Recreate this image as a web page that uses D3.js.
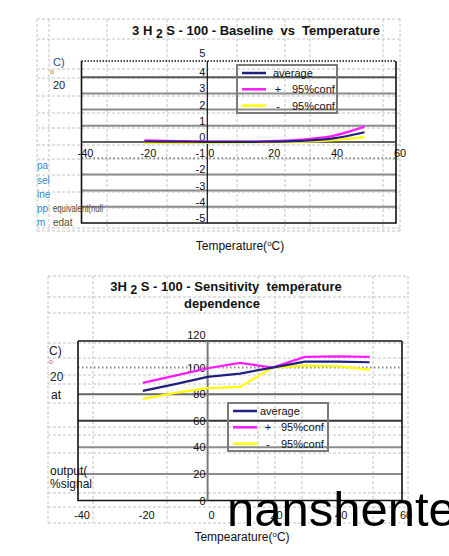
<!DOCTYPE html>
<html>
<head>
<meta charset="utf-8">
<script src="https://cdn.jsdelivr.net/npm/d3@7"></script>
<style>
  body { margin: 0; background: #fff; }
  text { font-family: "Liberation Sans", Arial, sans-serif; }
</style>
</head>
<body>
<div id="chart"></div>
<script>
"use strict";

// Values
var temps = [-20, -10, 0, 10, 20, 30, 40, 50];
var seriesNames = ["average", "+", "-"];

var baseAvg   = [0.03, 0.02, 0.01, 0.01, 0.02, 0.07, 0.22, 0.60];
var basePlus  = [0.10, 0.06, 0.03, 0.02, 0.05, 0.15, 0.38, 0.95];
var baseMinus = [-0.06, -0.05, -0.05, -0.04, -0.02, 0.02, 0.12, 0.30];

var sensAvg   = [82.5, 87.5, 93, 95.5, 100, 104.5, 104.5, 104];
var sensPlus  = [88.5, 94, 99.5, 103.5, 100, 108, 108.5, 108];
var sensMinus = [76.5, 81, 84.5, 85.5, 100, 101.5, 101, 98.5];

var xTicks = [-40, -20, 0, 20, 40, 60];
var baseTicks = [-5, -4, -3, -2, -1, 0, 1, 2, 3, 4, 5];
var sensTicks = [0, 20, 40, 60, 80, 100, 120];

var colors = ["#1f1f80", "#ff1aff", "#ffff00"];

var svg = d3.select("#chart")
            .append("svg")
            .attr("width", 449)
            .attr("height", 556)
            .style("display", "block");

svg.append("rect").attr("width", 449).attr("height", 556).attr("fill", "#fff");

// Spreadsheet cell grid behind the charts
var drawSheet = function(s) {
  var g = svg.append("g")
             .attr("stroke", "#c4c4c4")
             .attr("stroke-width", 1)
             .attr("stroke-dasharray", "3,2");
  g.selectAll("line.col")
   .data(s.cols)
   .enter()
   .append("line")
   .attr("x1", function(d) { return d; })
   .attr("x2", function(d) { return d; })
   .attr("y1", s.y0)
   .attr("y2", s.y1);
  g.selectAll("line.row")
   .data(s.rows)
   .enter()
   .append("line")
   .attr("x1", s.x0)
   .attr("x2", s.x1)
   .attr("y1", function(d) { return d; })
   .attr("y2", function(d) { return d; });
};

drawSheet({ x0: 37, x1: 400, y0: 19, y1: 231,
            cols: [37, 49, 107, 167, 237, 285, 310, 383, 400],
            rows: [19, 39, 69, 78, 96, 113, 128, 145, 159, 175, 192, 208, 228, 231] });
drawSheet({ x0: 48, x1: 408, y0: 276, y1: 523,
            cols: [48, 93, 167, 258, 275, 302, 373, 408],
            rows: [276, 297, 313, 343, 358, 375, 384, 403, 427, 435, 453, 493, 507, 523] });

// One Excel-style chart
var drawChart = function(o) {
  var x = d3.scaleLinear().domain([-40, 60]).range(o.xRange);
  var y = d3.scaleLinear().domain(o.yDomain).range(o.yRange);
  var g = svg.append("g");

  // horizontal gridlines
  g.selectAll("line.grid")
   .data(o.yTicks.filter(function(d) { return d > o.yDomain[0] && d < o.yDomain[1]; }))
   .enter()
   .append("line")
   .attr("x1", o.xRange[0])
   .attr("x2", o.xRange[1])
   .attr("y1", function(d) { return y(d); })
   .attr("y2", function(d) { return y(d); })
   .attr("stroke", function(d) { return o.gridColor(d); })
   .attr("stroke-width", 2)
   .attr("stroke-dasharray", function(d) { return o.dotted.indexOf(d) >= 0 ? "1.5,2.5" : null; });

  // frame
  var fx0 = o.xRange[0], fx1 = o.xRange[1], fy0 = o.yRange[1], fy1 = o.yRange[0];
  g.append("path")
   .attr("d", "M" + fx1 + "," + fy0 + "L" + fx1 + "," + fy1 + "L" + fx0 + "," + fy1 + "L" + fx0 + "," + fy0)
   .attr("fill", "none")
   .attr("stroke", "#111")
   .attr("stroke-width", 1.6);
  g.append("line")
   .attr("x1", fx0).attr("x2", fx1).attr("y1", fy0).attr("y2", fy0)
   .attr("stroke", "#111")
   .attr("stroke-width", 1.3)
   .attr("stroke-dasharray", o.topDotted ? "1.5,1.5" : null);

  // axes cross at zero
  g.append("line")
   .attr("x1", x(0)).attr("x2", x(0)).attr("y1", fy0).attr("y2", fy1)
   .attr("stroke", o.yAxisColor)
   .attr("stroke-width", o.yAxisWidth);
  if (o.yDomain[0] < 0) {
    g.append("line")
     .attr("x1", fx0).attr("x2", fx1).attr("y1", y(0)).attr("y2", y(0))
     .attr("stroke", "#555")
     .attr("stroke-width", 1.5);
  }

  // y tick labels
  g.selectAll("text.yt")
   .data(o.yTicks)
   .enter()
   .append("text")
   .attr("x", x(0) - 2)
   .attr("y", function(d) { return y(d) + o.yLabelDy(d); })
   .attr("text-anchor", "end")
   .attr("font-size", 11)
   .attr("fill", "#111")
   .text(function(d) { return d; });

  // x tick labels
  var xAxisY = y(Math.max(0, o.yDomain[0]));
  g.selectAll("text.xt")
   .data(xTicks)
   .enter()
   .append("text")
   .attr("x", function(d) { return x(d) + 4; })
   .attr("y", xAxisY + o.xLabelDy)
   .attr("text-anchor", "middle")
   .attr("font-size", 11)
   .attr("fill", "#111")
   .text(function(d) { return d; });

  // series
  var line = d3.line()
               .x(function(d, i) { return x(temps[i]); })
               .y(function(d) { return y(d); })
               .curve(o.curve);
  g.selectAll("path.series")
   .data([o.series[2], o.series[1], o.series[0]])
   .enter()
   .append("path")
   .attr("d", function(d) { return line(d); })
   .attr("fill", "none")
   .attr("stroke", function(d, i) { return colors[2 - i]; })
   .attr("stroke-width", 2.2);

  // legend
  var lg = svg.append("g").attr("transform", "translate(" + o.legend[0] + "," + o.legend[1] + ")");
  lg.append("rect")
    .attr("width", 100)
    .attr("height", 48)
    .attr("fill", "none")
    .attr("stroke", "#7a7a7a")
    .attr("stroke-width", 2);
  var item = lg.selectAll("g.item")
               .data(seriesNames)
               .enter()
               .append("g")
               .attr("transform", function(d, i) { return "translate(0," + (8 + i * 16.3) + ")"; });
  item.append("line")
      .attr("x1", 5).attr("x2", 29)
      .attr("stroke", function(d, i) { return colors[i]; })
      .attr("stroke-width", 2.5);
  item.append("text")
      .attr("x", function(d, i) { return i === 0 ? o.legendText[0] : o.legendText[1]; })
      .attr("y", 4)
      .attr("text-anchor", function(d, i) { return i === 0 ? "start" : "middle"; })
      .attr("font-size", 11)
      .attr("fill", "#111")
      .text(function(d) { return d; });
  item.filter(function(d, i) { return i > 0; })
      .append("text")
      .attr("x", o.legendText[2])
      .attr("y", 4)
      .attr("font-size", 11)
      .attr("fill", "#111")
      .text("95%conf");
};

drawChart({
  xRange: [81.5, 396], yDomain: [-5, 5], yRange: [223, 61],
  yTicks: baseTicks, dotted: [-1], topDotted: true,
  gridColor: function(d) { return d === 4 ? "#555" : "#8c8c8c"; },
  yAxisColor: "#111", yAxisWidth: 1.2,
  yLabelDy: function(d) { return d === 5 ? -4 : -1; },
  xLabelDy: 15,
  series: [baseAvg, basePlus, baseMinus],
  curve: d3.curveMonotoneX,
  legend: [237, 65], legendText: [36, 41, 55]
});

drawChart({
  xRange: [78, 402], yDomain: [0, 120], yRange: [500.5, 341],
  yTicks: sensTicks, dotted: [100], topDotted: false,
  gridColor: function(d) { return d === 60 ? "#333" : (d === 80 ? "#666" : "#8c8c8c"); },
  yAxisColor: "#7a7a7a", yAxisWidth: 2,
  yLabelDy: function(d) { return d === 120 ? -2 : 4; },
  xLabelDy: 18.5,
  series: [sensAvg, sensPlus, sensMinus],
  curve: d3.curveLinear,
  legend: [228, 403], legendText: [32, 40, 53]
});

// Titles
var t1 = svg.append("text")
            .attr("x", 256).attr("y", 35)
            .attr("text-anchor", "middle")
            .attr("font-size", 13)
            .attr("font-weight", "bold")
            .attr("fill", "#111")
            .style("white-space", "pre");
t1.append("tspan").text("3 H ");
t1.append("tspan").attr("dy", 3).attr("font-size", 12).text("2");
t1.append("tspan").attr("dy", -3).text(" S - 100 - Baseline  vs  Temperature");

var t2 = svg.append("text")
            .attr("x", 226).attr("y", 291)
            .attr("text-anchor", "middle")
            .attr("font-size", 13)
            .attr("font-weight", "bold")
            .attr("fill", "#111")
            .style("white-space", "pre");
t2.append("tspan").text("3H ");
t2.append("tspan").attr("dy", 3).attr("font-size", 12).text("2");
t2.append("tspan").attr("dy", -3).text(" S - 100 - Sensitivity  temperature");
svg.append("text")
   .attr("x", 222).attr("y", 308)
   .attr("text-anchor", "middle")
   .attr("font-size", 13)
   .attr("font-weight", "bold")
   .attr("fill", "#111")
   .text("dependence");

// Axis titles
var axisTitle = function(cx, by, label) {
  var t = svg.append("text")
             .attr("x", cx).attr("y", by)
             .attr("text-anchor", "middle")
             .attr("font-size", 12)
             .attr("fill", "#111");
  t.append("tspan").text(label + "(");
  t.append("tspan").attr("dy", -4).attr("font-size", 8).text("o");
  t.append("tspan").attr("dy", 4).text("C)");
};
axisTitle(240, 250, "Temperature");
axisTitle(242, 541, "Tempearature");

// Cut-off cell text left of the plots
var cellTexts = [
  ["C)", 53, 66, "#2a4d9a", 11], ["o", 50, 74, "#c06020", 7], ["20", 53, 89, "#222", 11],
  ["pa", 37, 169, "#2f8fd0", 10], ["sel", 37, 184, "#2f8fd0", 10], ["ine", 37, 198, "#2f8fd0", 10],
  ["pp", 37, 212, "#2f8fd0", 10], ["m", 37, 226, "#2f8fd0", 10],
  ["equivalent(null", 53, 212, "#5a4a2a", 10], ["edat", 53, 226, "#5a4a2a", 10],
  ["C)", 49, 355, "#222", 12], ["o", 49, 364, "#c06020", 7], ["20", 50, 381, "#222", 12],
  ["at", 51, 399, "#111", 12], ["output(", 50, 475, "#111", 12], ["%signal", 50, 488, "#111", 12]
];
svg.selectAll("text.cell")
   .data(cellTexts)
   .enter()
   .append("text")
   .attr("x", function(d) { return d[1]; })
   .attr("y", function(d) { return d[2]; })
   .attr("fill", function(d) { return d[3]; })
   .attr("font-size", function(d) { return d[4]; })
   .attr("textLength", function(d) { return d[0] === "equivalent(null" ? 50 : null; })
   .attr("lengthAdjust", "spacingAndGlyphs")
   .text(function(d) { return d[0]; });

// Watermark over the lower chart
svg.append("text")
   .attr("x", 227).attr("y", 526)
   .attr("font-size", 49)
   .attr("fill", "#000")
   .text("nanshente");
</script>
</body>
</html>
